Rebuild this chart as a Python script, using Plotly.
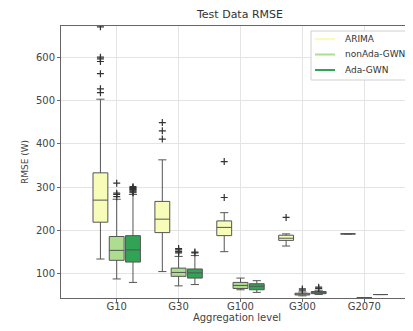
import plotly.graph_objects as go

categories = ["G10", "G30", "G100", "G300", "G2070"]
series = ["ARIMA", "nonAda-GWN", "Ada-GWN"]

# Precomputed box statistics per series (one value per aggregation level)
arima_q1 = [219, 195, 188, 177, 192]
arima_med = [270, 226, 207, 182, 192]
arima_q3 = [333, 267, 222, 189, 192]
arima_lo = [134, 105, 151, 164, 192]
arima_hi = [503, 363, 241, 192, 192]
arima_out = [[518, 527, 562, 590, 596, 600, 670], [411, 430, 449], [276, 359], [230], []]

nonada_q1 = [131, 94, 66, 51, 45]
nonada_med = [154, 103, 73, 53, 45]
nonada_q3 = [186, 113, 80, 55, 45]
nonada_lo = [88, 72, 63, 49, 45]
nonada_hi = [272, 140, 90, 58, 45]
nonada_out = [[278, 283, 286, 309], [148, 151, 155, 158], [], [62, 65], []]

ada_q1 = [127, 90, 63, 54, 52]
ada_med = [155, 102, 71, 56, 52]
ada_q3 = [188, 111, 77, 59, 52]
ada_lo = [80, 75, 57, 52, 52]
ada_hi = [283, 142, 84, 62, 52]
ada_out = [[287, 289, 291, 293, 295, 297, 299, 301], [148, 150], [], [66, 69], []]

colors = ["#f7fcb9", "#addd8e", "#31a354"]
offsets = [-0.263, 0.0, 0.263]

stats = [
    (arima_q1, arima_med, arima_q3, arima_lo, arima_hi, arima_out),
    (nonada_q1, nonada_med, nonada_q3, nonada_lo, nonada_hi, nonada_out),
    (ada_q1, ada_med, ada_q3, ada_lo, ada_hi, ada_out),
]

base_pos = list(range(1, len(categories) + 1))
fig = go.Figure()

for s, (q1, med, q3, lo, hi, outs), col, off in zip(series, stats, colors, offsets):
    xs = [p + off for p in base_pos]
    fig.add_trace(go.Box(
        x=xs, q1=q1, median=med, q3=q3, lowerfence=lo, upperfence=hi,
        width=0.24, whiskerwidth=0.55, boxpoints=False,
        fillcolor=col, line=dict(color="#555555", width=1),
        showlegend=False, name=s, hoverinfo="skip",
    ))
    ox, oy = [], []
    for p, o in zip(xs, outs):
        ox += [p] * len(o)
        oy += o
    fig.add_trace(go.Scatter(
        x=ox, y=oy, mode="markers", showlegend=False, hoverinfo="skip",
        marker=dict(symbol="cross-thin", size=5, line=dict(color="#333333", width=1.2)),
    ))

# The page body has an 8px margin: size the figure so it fills the 413x331 window.
PAD = 8
W, H = 413 - PAD, 331 - PAD
L, R, T, B = 61 - PAD, 0, 26 - PAD, 33
pw, ph = W - L - R, H - T - B


def px_x(px):
    return (px - PAD - L) / pw


def px_y(py):
    return (H - B - (py - PAD)) / ph


shapes = [dict(type="rect", xref="paper", yref="paper",
               x0=px_x(311), x1=px_x(440), y0=px_y(80), y1=px_y(31),
               line=dict(color="#d0d0d0", width=1), fillcolor="rgba(255,255,255,0.85)", layer="above")]
annotations = []
for i, (s, col) in enumerate(zip(series, colors)):
    yy = px_y(39 + i * 15.5)
    shapes.append(dict(type="line", xref="paper", yref="paper",
                       x0=px_x(315), x1=px_x(335), y0=yy, y1=yy,
                       line=dict(color=col, width=2), layer="above"))
    annotations.append(dict(text=s, xref="paper", yref="paper", x=px_x(343), y=yy,
                            xanchor="left", yanchor="middle", showarrow=False,
                            font=dict(family="DejaVu Sans", size=9, color="#333333")))

axis_font = dict(family="DejaVu Sans", size=10, color="#444444")

fig.update_layout(
    width=W, height=H,
    margin=dict(l=L, r=R, t=T, b=B, autoexpand=False),
    paper_bgcolor="white", plot_bgcolor="white",
    font=dict(family="DejaVu Sans", size=10, color="#444444"),
    title=dict(text="Test Data RMSE", x=(240 - PAD) / W, xanchor="center", xref="container",
               y=1 - (14 - PAD) / H, yanchor="middle", yref="container",
               font=dict(family="DejaVu Sans", size=11, color="#333333")),
    showlegend=False,
    shapes=shapes,
    annotations=annotations,
    xaxis=dict(
        range=[0.1, 5.787], tickmode="array", tickvals=base_pos, ticktext=categories,
        showgrid=True, gridcolor="#e4e4e4", gridwidth=1, zeroline=False,
        showline=True, linecolor="#666666", linewidth=1, mirror=True,
        ticks="outside", ticklen=3, tickcolor="#666666",
        tickfont=axis_font, ticklabelstandoff=-4,
        title=dict(text="Aggregation level", font=dict(family="DejaVu Sans", size=10, color="#444444"), standoff=0),
    ),
    yaxis=dict(
        range=[44, 672], tickmode="array", tickvals=[100, 200, 300, 400, 500, 600],
        showgrid=True, gridcolor="#e4e4e4", gridwidth=1, zeroline=False,
        showline=True, linecolor="#666666", linewidth=1, mirror=False,
        ticks="outside", ticklen=3, tickcolor="#666666",
        tickfont=axis_font,
        title=dict(text="RMSE (W)", font=dict(family="DejaVu Sans", size=9, color="#444444"), standoff=5),
    ),
)

fig.write_html("out.html")
